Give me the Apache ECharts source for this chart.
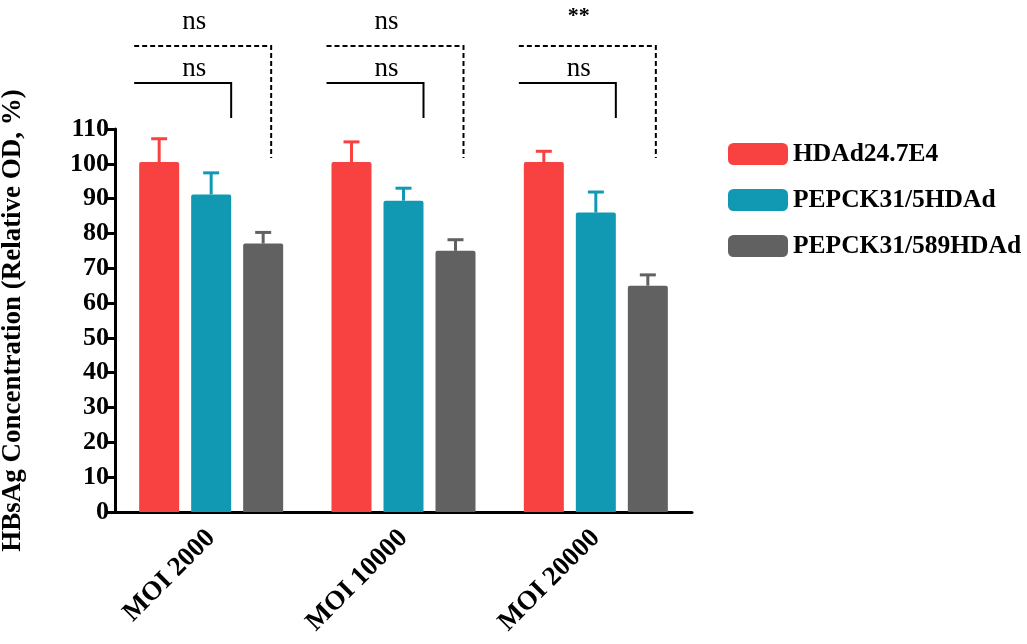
<!DOCTYPE html>
<html>
<head>
<meta charset="utf-8">
<script src="https://cdn.jsdelivr.net/npm/echarts@6/dist/echarts.min.js"></script>
<style>
html, body { margin: 0; padding: 0; background: #fff; }
#chart { width: 1027px; height: 644px; }
</style>
</head>
<body>
<div id="chart"></div>
<script>
// data
const categories = ['MOI 2000', 'MOI 10000', 'MOI 20000'];
const seriesNames = ['HDAd24.7E4', 'PEPCK31/5HDAd', 'PEPCK31/589HDAd'];
const hdadMean = [100.5, 100.5, 100.5];
const hdadErr = [6.7, 5.8, 3.1];
const pepck5Mean = [91.2, 89.4, 86];
const pepck5Err = [6.2, 3.6, 5.9];
const pepck589Mean = [77.1, 75, 65];
const pepck589Err = [3.2, 3.2, 3.1];
const yTicks = [0, 110, 10]; // min, max, interval
const innerSig = ['ns', 'ns', 'ns'];   // HDAd vs PEPCK31/5
const outerSig = ['ns', 'ns', '**'];   // HDAd vs PEPCK31/589

const colors = ['#F84141', '#1199B3', '#616161'];
const FONT = '"Liberation Serif", "Times New Roman", serif';
const BAR_W = 40;
const BAR_STEP = 52; // bar width + gap

let chart = echarts.init(document.getElementById('chart'));

function errSeries(means, errs, idx) {
    return {
        type: 'custom',
        silent: true,
        z: 5,
        data: means.map((m, i) => [i, m, errs[i]]),
        renderItem: function(params, api) {
            let c = api.value(0);
            let base = api.coord([c, api.value(1)]);
            let top = api.coord([c, api.value(1) + api.value(2)]);
            let x = base[0] + (idx - 1) * BAR_STEP;
            let style = { stroke: colors[idx], lineWidth: 3 };
            return {
                type: 'group',
                children: [
                    { type: 'line', shape: { x1: x, y1: base[1], x2: x, y2: top[1] }, style: style },
                    { type: 'line', shape: { x1: x - 8, y1: top[1], x2: x + 8, y2: top[1] }, style: style }
                ]
            };
        }
    };
}

function barSeries(name, data, idx) {
    return {
        name: name,
        type: 'bar',
        data: data,
        barWidth: BAR_W,
        barGap: '30%',
        itemStyle: { color: colors[idx], borderRadius: [2, 2, 0, 0] },
        z: 3
    };
}

let option = {
    animation: false,
    backgroundColor: '#fff',
    grid: { left: 115, right: 335, top: 129, bottom: 132, outerBoundsMode: 'none' },
    legend: {
        data: seriesNames,
        orient: 'vertical',
        left: 728,
        top: 141,
        padding: 0,
        itemWidth: 60,
        itemHeight: 22,
        itemGap: 20,
        icon: 'roundRect',
        textStyle: { fontFamily: FONT, fontWeight: 'bold', fontSize: 25.5, color: '#000', lineHeight: 22 }
    },
    xAxis: {
        type: 'category',
        data: categories,
        axisLine: { lineStyle: { color: '#000', width: 3 } },
        axisTick: { alignWithLabel: true, length: 10, lineStyle: { color: '#000', width: 3 } },
        axisLabel: { rotate: 45, margin: 22, fontFamily: FONT, fontWeight: 'bold', fontSize: 27, color: '#000' }
    },
    yAxis: {
        type: 'value',
        min: yTicks[0],
        max: yTicks[1],
        interval: yTicks[2],
        name: 'HBsAg Concentration (Relative OD, %)',
        nameLocation: 'middle',
        nameGap: 88,
        nameRotate: 90,
        nameTextStyle: { fontFamily: FONT, fontWeight: 'bold', fontSize: 27, color: '#000' },
        axisLine: { show: true, lineStyle: { color: '#000', width: 3 } },
        axisTick: { show: true, length: 8, lineStyle: { color: '#000', width: 3 } },
        axisLabel: { margin: 6, fontFamily: FONT, fontWeight: 'bold', fontSize: 26, color: '#000' },
        splitLine: { show: false }
    },
    series: [
        barSeries(seriesNames[0], hdadMean, 0),
        barSeries(seriesNames[1], pepck5Mean, 1),
        barSeries(seriesNames[2], pepck589Mean, 2),
        errSeries(hdadMean, hdadErr, 0),
        errSeries(pepck5Mean, pepck5Err, 1),
        errSeries(pepck589Mean, pepck589Err, 2)
    ]
};

chart.setOption(option);

// significance brackets, placed from the category centres
let graphics = [];
categories.forEach(function(cat, i) {
    let cx = chart.convertToPixel({ xAxisIndex: 0 }, cat);
    let left = cx - 77;
    let solid = { stroke: '#000', lineWidth: 2 };
    let dashed = { stroke: '#000', lineWidth: 2, lineDash: [5, 3] };
    graphics.push({ type: 'polyline', shape: { points: [[left, 83], [cx + 20, 83], [cx + 20, 118]] }, style: solid });
    graphics.push({ type: 'polyline', shape: { points: [[left, 46], [cx + 60, 46], [cx + 60, 158]] }, style: dashed });
    graphics.push({ type: 'text', x: cx - 17, y: 69, style: { text: innerSig[i], font: '27px ' + FONT, fill: '#000', align: 'center', verticalAlign: 'middle' } });
    let top = outerSig[i];
    graphics.push({ type: 'text', x: cx - 17, y: top === '**' ? 16 : 22, style: { text: top, font: (top === '**' ? 'bold 22px ' : '27px ') + FONT, fill: '#000', align: 'center', verticalAlign: 'middle' } });
});
chart.setOption({ graphic: graphics });
</script>
</body>
</html>
